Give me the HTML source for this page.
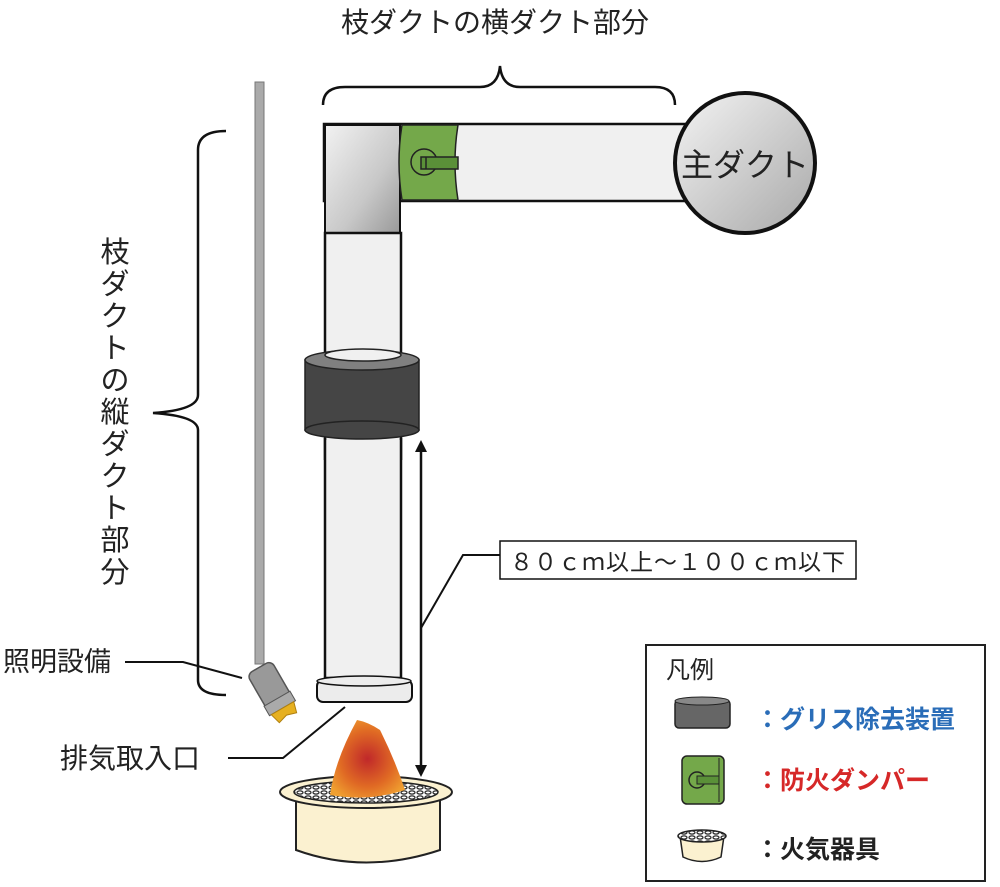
<!DOCTYPE html>
<html><head><meta charset="utf-8"><style>
body{margin:0;background:#fff}
svg{display:block}
text{font-family:"Liberation Sans","Noto Sans CJK JP",sans-serif}
</style></head><body>
<svg width="1000" height="887" viewBox="0 0 1000 887" xmlns="http://www.w3.org/2000/svg">
<defs>
<linearGradient id="cg" x1="0" y1="0" x2="1" y2="1"><stop offset="0" stop-color="#f2f2f2"/><stop offset="0.6" stop-color="#c8c8c8"/><stop offset="1" stop-color="#999"/></linearGradient>
<linearGradient id="mg" x1="0" y1="0" x2="1" y2="1"><stop offset="0" stop-color="#f4f4f4"/><stop offset="1" stop-color="#a8a8a8"/></linearGradient>
<radialGradient id="fl" cx="0.5" cy="0.5" r="0.6"><stop offset="0" stop-color="#c0282a"/><stop offset="0.6" stop-color="#e06a24"/><stop offset="1" stop-color="#f0a030"/></radialGradient>
<pattern id="grid" width="8" height="5" patternUnits="userSpaceOnUse"><rect width="8" height="5" fill="#fff"/><ellipse cx="4" cy="2.5" rx="3" ry="1.6" fill="none" stroke="#333" stroke-width="1.3"/></pattern>
</defs>

<text x="495" y="32" font-size="28" text-anchor="middle" fill="#222">枝ダクトの横ダクト部分</text>
<path d="M323,105 Q323,87 345,87 L480,87 Q498,87 500,66 Q502,87 520,87 L655,87 Q675,87 675,105" fill="none" stroke="#111" stroke-width="2.5"/>

<path d="M226,131 Q198,131 198,150 L198,395 Q198,410 153,413 Q198,416 198,430 L198,680 Q198,695 226,695" fill="none" stroke="#111" stroke-width="2.5"/>
<g font-size="29" fill="#222" text-anchor="middle">
<text x="115" y="262">枝</text><text x="115" y="294">ダ</text><text x="115" y="326">ク</text><text x="115" y="358">ト</text><text x="115" y="390">の</text><text x="115" y="422">縦</text><text x="115" y="454">ダ</text><text x="115" y="486">ク</text><text x="115" y="518">ト</text><text x="115" y="550">部</text><text x="115" y="582">分</text>
</g>

<!-- rod -->
<rect x="255" y="82" width="9" height="582" fill="#aaa" stroke="#777" stroke-width="1"/>
<g transform="translate(272,690) rotate(-30)">
<rect x="-14" y="-26" width="28" height="44" rx="6" fill="#999" stroke="#555" stroke-width="1.5"/>
<rect x="-15" y="10" width="30" height="11" fill="#aaa" stroke="#555"/>
<path d="M-13,21 L-10,32 L0,29 L10,32 L13,21 Z" fill="#e6b020" stroke="#b08010"/>
</g>

<!-- horizontal duct -->
<rect x="324" y="124" width="390" height="77" fill="#f0f0f0" stroke="#111" stroke-width="2.5"/>
<rect x="325" y="125" width="75" height="108" fill="url(#cg)" stroke="#111" stroke-width="2"/>
<path d="M402,125 L458,125 Q452,162 458,200 L402,200 Q396,162 402,125 Z" fill="#74a84a" stroke="#222" stroke-width="1.5"/>
<circle cx="424" cy="162" r="13" fill="none" stroke="#222" stroke-width="1.5"/>
<rect x="421" y="157" width="37" height="12" fill="#5a9038" stroke="#222" stroke-width="1.5"/>
<line x1="426" y1="157" x2="426" y2="169" stroke="#222" stroke-width="1.5"/>

<!-- main duct -->
<circle cx="745" cy="163" r="70" fill="url(#mg)" stroke="#111" stroke-width="4"/>
<text x="745" y="176" font-size="32" text-anchor="middle" fill="#222">主ダクト</text>

<!-- vertical duct -->
<rect x="325" y="233" width="76" height="445" fill="#f0f0f0" stroke="#111" stroke-width="2.5"/>
<rect x="305" y="360" width="114" height="70" fill="#454545" stroke="#222" stroke-width="1.5"/>
<ellipse cx="362" cy="430" rx="57" ry="9" fill="#454545" stroke="#222" stroke-width="1.5"/>
<ellipse cx="362" cy="360" rx="57" ry="10" fill="#808080" stroke="#222" stroke-width="1.5"/>
<ellipse cx="363" cy="355" rx="38" ry="6" fill="#f0f0f0" stroke="#222" stroke-width="1.5"/>
<rect x="325" y="440" width="76" height="20" fill="#f0f0f0"/>
<line x1="325" y1="438" x2="325" y2="460" stroke="#111" stroke-width="2.5"/>
<line x1="401" y1="438" x2="401" y2="460" stroke="#111" stroke-width="2.5"/>
<rect x="317" y="680" width="95" height="22" rx="6" fill="#ececec" stroke="#111" stroke-width="2"/>
<ellipse cx="364" cy="681" rx="47" ry="5" fill="#ececec" stroke="#111" stroke-width="1.5"/>

<!-- arrow -->
<line x1="421" y1="448" x2="421" y2="768" stroke="#111" stroke-width="2.5"/>
<path d="M415,452 L421,440 L427,452 Z" fill="#111"/>
<path d="M415,765 L421,777 L427,765 Z" fill="#111"/>
<polyline points="500,555 463,555 421,628" fill="none" stroke="#111" stroke-width="2"/>
<rect x="500" y="541" width="356" height="38" fill="#fff" stroke="#111" stroke-width="1.5"/>
<text x="678" y="570" font-size="23" text-anchor="middle" fill="#222" letter-spacing="1">８０ｃｍ以上～１００ｃｍ以下</text>

<!-- labels -->
<text x="3" y="671" font-size="27" fill="#222">照明設備</text>
<polyline points="125,662 183,662 242,678" fill="none" stroke="#111" stroke-width="2"/>
<text x="60" y="768" font-size="28" fill="#222">排気取入口</text>
<polyline points="228,758 283,758 345,707" fill="none" stroke="#111" stroke-width="2"/>

<!-- stove -->
<path d="M296,790 L296,850 Q365,875 440,850 L440,790 Z" fill="#fbf1d0" stroke="#222" stroke-width="2"/>
<ellipse cx="366" cy="792" rx="86" ry="16" fill="#fbf1d0" stroke="#222" stroke-width="2"/>
<ellipse cx="366" cy="792" rx="72" ry="11" fill="url(#grid)" stroke="#222" stroke-width="1.5"/>
<path d="M330,795 Q335,760 357,720 Q368,722 380,730 Q395,760 405,790 Q368,802 330,795 Z" fill="url(#fl)"/>

<!-- legend -->
<rect x="646" y="645" width="339" height="236" fill="#fff" stroke="#222" stroke-width="2"/>
<text x="666" y="678" font-size="24" fill="#222">凡例</text>
<rect x="675" y="700" width="55" height="28" rx="4" fill="#666" stroke="#222" stroke-width="1.5"/>
<ellipse cx="702" cy="701" rx="27" ry="4" fill="#888" stroke="#222"/>
<text x="755" y="728" font-size="25" font-weight="bold" fill="#2a6db8">：グリス除去装置</text>
<rect x="682" y="756" width="42" height="48" rx="5" fill="#74a84a" stroke="#222" stroke-width="1.5"/>
<circle cx="697" cy="780" r="8" fill="none" stroke="#222" stroke-width="1.5"/>
<rect x="697" y="776" width="22" height="8" fill="#5a9038" stroke="#222"/>
<line x1="719" y1="758" x2="719" y2="802" stroke="#222"/>
<text x="755" y="789" font-size="25" font-weight="bold" fill="#d62828">：防火ダンパー</text>
<path d="M680,836 L683,857 Q702,866 721,857 L724,836 Z" fill="#fbf1d0" stroke="#222" stroke-width="1.5"/>
<ellipse cx="702" cy="836" rx="24" ry="6" fill="url(#grid)" stroke="#222" stroke-width="1.5"/>
<text x="755" y="858" font-size="25" font-weight="bold" fill="#222">：火気器具</text>
</svg>
</body></html>
